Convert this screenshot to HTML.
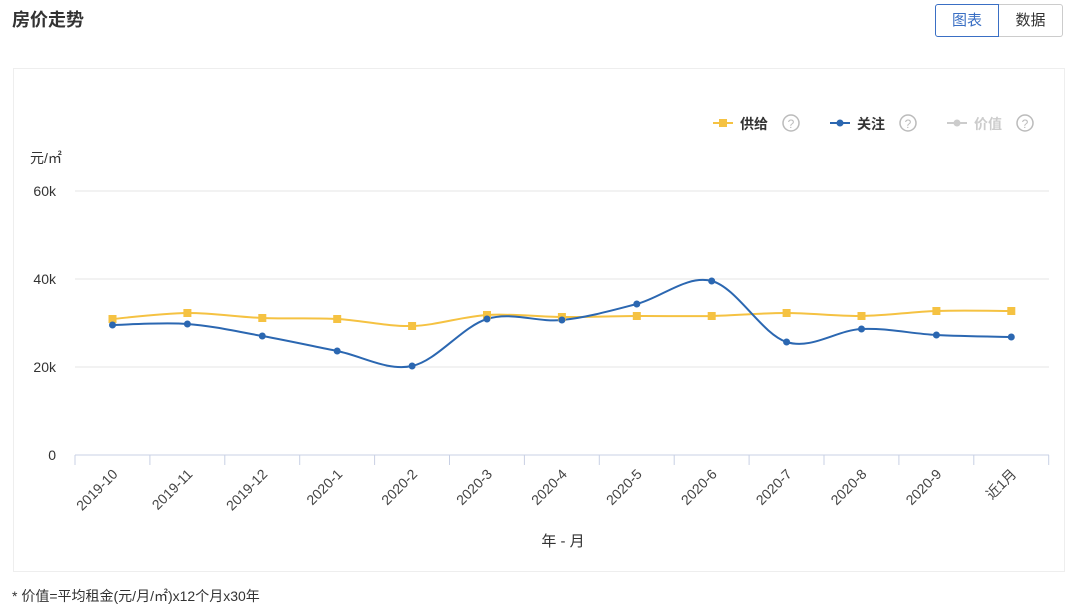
<!DOCTYPE html>
<html><head><meta charset="utf-8"><style>
body{margin:0;width:1080px;height:612px;background:#fff;font-family:"Liberation Sans","Noto Sans CJK SC",sans-serif;overflow:hidden;position:relative}
.t{position:absolute;left:12px;top:6px;font-size:18px;font-weight:bold;color:#333}
.btns{position:absolute;left:935px;top:4px;display:flex}
.b{width:64px;text-align:center;height:33px;line-height:32px;font-size:15px;border:1px solid #ccc;color:#333;box-sizing:border-box}
.b1{border:1px solid #3a6fc4;color:#3a6fc4;border-radius:3px 0 0 3px}
.b2{border-left:none;border-radius:0 3px 3px 0}
.box{position:absolute;left:13px;top:68px;width:1050px;height:502px;border:1px solid #eee}
.foot{position:absolute;left:12px;top:586px;font-size:14px;color:#333}
</style></head><body>
<div class="t">房价走势</div>
<div class="btns"><div class="b b1">图表</div><div class="b b2">数据</div></div>
<div class="box"></div>
<svg width="1080" height="612" style="position:absolute;left:0;top:0" font-family="Liberation Sans, Noto Sans CJK SC, sans-serif">
<g font-size="14" font-weight="bold">
<line x1="713" y1="123" x2="733" y2="123" stroke="#f5c242" stroke-width="2"/><rect x="719" y="119" width="8" height="8" fill="#f5c242"/>
<text x="740" y="129" fill="#333">供给</text>
<circle cx="791" cy="123" r="8" fill="none" stroke="#bbb" stroke-width="1.5"/><text x="791" y="128" font-size="12" fill="#bbb" text-anchor="middle" font-weight="normal">?</text>
<line x1="830" y1="123" x2="850" y2="123" stroke="#2b67b1" stroke-width="2"/><circle cx="840" cy="123" r="3.5" fill="#2b67b1"/>
<text x="857" y="129" fill="#333">关注</text>
<circle cx="908" cy="123" r="8" fill="none" stroke="#bbb" stroke-width="1.5"/><text x="908" y="128" font-size="12" fill="#bbb" text-anchor="middle" font-weight="normal">?</text>
<line x1="947" y1="123" x2="967" y2="123" stroke="#ccc" stroke-width="2"/><circle cx="957" cy="123" r="3.5" fill="#ccc"/>
<text x="974" y="129" fill="#ccc">价值</text>
<circle cx="1025" cy="123" r="8" fill="none" stroke="#bbb" stroke-width="1.5"/><text x="1025" y="128" font-size="12" fill="#bbb" text-anchor="middle" font-weight="normal">?</text>
</g>
<text x="30" y="163" font-size="14" fill="#333">元/㎡</text>
<g stroke="#e4e4e4"><line x1="75" y1="191" x2="1049" y2="191"/><line x1="75" y1="279" x2="1049" y2="279"/><line x1="75" y1="367" x2="1049" y2="367"/></g>
<line x1="75" y1="455" x2="1049" y2="455" stroke="#c8d0e4"/>
<g font-size="14" fill="#333" text-anchor="end"><text x="56" y="196">60k</text><text x="56" y="284">40k</text><text x="56" y="372">20k</text><text x="56" y="460">0</text></g>
<g id="ticks" stroke="#c8d0e4"></g>
<g id="lbl" font-size="14" fill="#444" text-anchor="end"></g>
<path id="sp" fill="none" stroke="#f5c242" stroke-width="2"/>
<path id="ap" fill="none" stroke="#2b67b1" stroke-width="2"/>
<g id="pts"></g>
<text x="563" y="546" font-size="15" fill="#333" text-anchor="middle">年 - 月</text>
</svg>
<div class="foot">* 价值=平均租金(元/月/㎡)x12个月x30年</div>
<script>
var xs=[],labs=["2019-10","2019-11","2019-12","2020-1","2020-2","2020-3","2020-4","2020-5","2020-6","2020-7","2020-8","2020-9","近1月"];
for(var i=0;i<13;i++)xs.push(112.5+i*74.9);
var s=[319,313,318,319,326,315,317,316,316,313,316,311,311],a=[325,324,336,351,366,319,320,304,281,342,329,335,337];
var ns="http://www.w3.org/2000/svg",T=document.getElementById("ticks"),L=document.getElementById("lbl"),P=document.getElementById("pts");
for(var i=0;i<=13;i++){var l=document.createElementNS(ns,"line");var x=75+i*74.9;l.setAttribute("x1",x);l.setAttribute("x2",x);l.setAttribute("y1",455);l.setAttribute("y2",465);T.appendChild(l);}
labs.forEach(function(t,i){var e=document.createElementNS(ns,"text");e.setAttribute("transform","translate("+(xs[i]+6)+",475) rotate(-45)");e.textContent=t;L.appendChild(e);});
function path(y){var d="M"+xs[0]+","+y[0];for(var i=0;i<12;i++){var p0=i?i-1:0,p3=i+2<13?i+2:12;var c1x=xs[i]+(xs[i+1]-xs[p0])/6,c1y=y[i]+(y[i+1]-y[p0])/6,c2x=xs[i+1]-(xs[p3]-xs[i])/6,c2y=y[i+1]-(y[p3]-y[i])/6;d+=" C"+c1x+","+c1y+" "+c2x+","+c2y+" "+xs[i+1]+","+y[i+1];}return d;}
document.getElementById("sp").setAttribute("d",path(s));document.getElementById("ap").setAttribute("d",path(a));
for(var i=0;i<13;i++){var r=document.createElementNS(ns,"rect");r.setAttribute("x",xs[i]-4);r.setAttribute("y",s[i]-4);r.setAttribute("width",8);r.setAttribute("height",8);r.setAttribute("fill","#f5c242");P.appendChild(r);
var c=document.createElementNS(ns,"circle");c.setAttribute("cx",xs[i]);c.setAttribute("cy",a[i]);c.setAttribute("r",3.5);c.setAttribute("fill","#2b67b1");P.appendChild(c);}
</script>
</body></html>
